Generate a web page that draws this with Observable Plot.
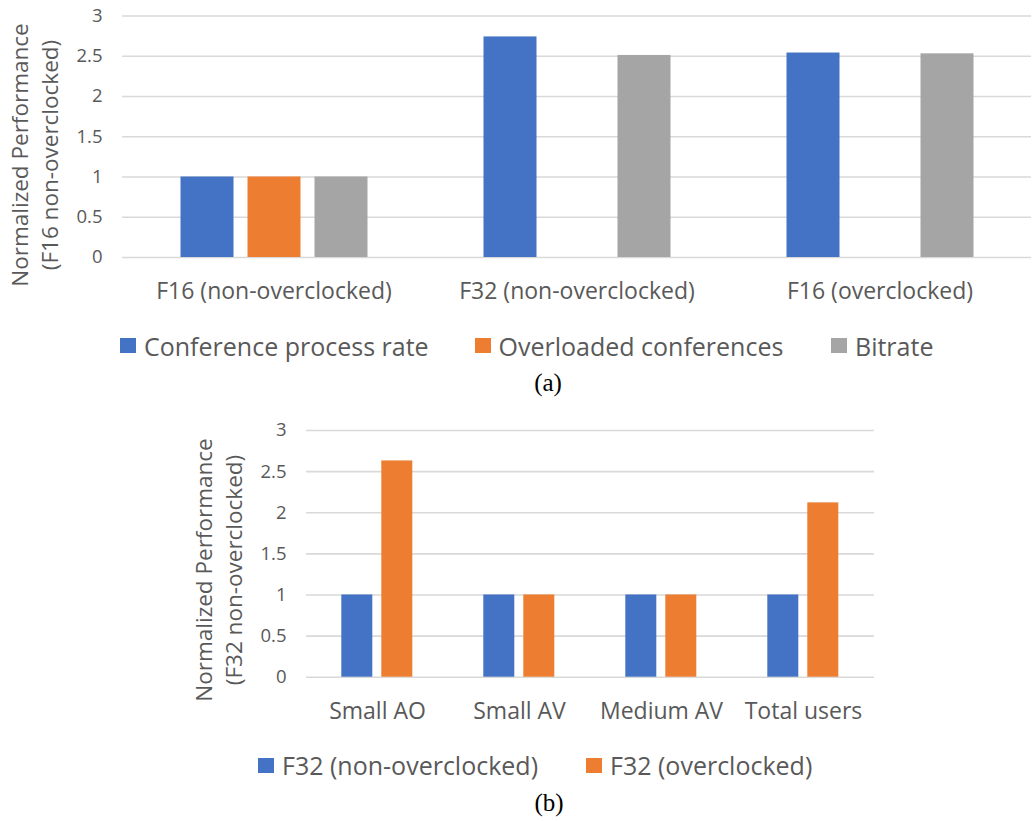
<!DOCTYPE html>
<html>
<head>
<meta charset="utf-8">
<script src="https://cdn.jsdelivr.net/npm/d3@7"></script>
<script src="https://cdn.jsdelivr.net/npm/@observablehq/plot@0.6"></script>
<style>
  body { margin: 0; background: #fff; overflow: hidden; }
  #root { position: relative; width: 1032px; height: 821px; font-family: "Open Sans", sans-serif; color: #595959; }
  #root svg { position: absolute; left: 0; }
  .ylab { position: absolute; transform: translate(-50%, -50%) rotate(-90deg); text-align: center; font-size: 22.5px; line-height: 30px; white-space: nowrap; }
  .leg { position: absolute; display: flex; align-items: center; font-size: 25px; white-space: nowrap; transform: translateY(-50%); }
  .sw { display: inline-block; width: 16px; height: 15px; margin-right: 8px; }
  .cap { position: absolute; font-family: "Liberation Serif", "Times New Roman", serif; font-size: 25px; color: #000; transform: translate(-50%, -50%); }
</style>
</head>
<body>
<div id="root"></div>
<script>
// ---- Panel (a) data ----
const groupsA = ["F16 (non-overclocked)", "F32 (non-overclocked)", "F16 (overclocked)"];
const seriesA = ["Conference process rate", "Overloaded conferences", "Bitrate"];
const conferenceProcessRate = [1, 2.74, 2.54];
const overloadedConferences = [1, null, null];
const bitrate = [1, 2.51, 2.53];
const colorsA = ["#4472C4", "#ED7D31", "#A5A5A5"];

// ---- Panel (b) data ----
const groupsB = ["Small AO", "Small AV", "Medium AV", "Total users"];
const seriesB = ["F32 (non-overclocked)", "F32 (overclocked)"];
const f32NonOverclocked = [1, 1, 1, 1];
const f32Overclocked = [2.63, 1, 1, 2.12];
const colorsB = ["#4472C4", "#ED7D31"];

const yTicks = [0, 0.5, 1, 1.5, 2, 2.5, 3];

function table(groups, series, valueLists) {
  const rows = [];
  groups.forEach((g, i) => {
    series.forEach((s, j) => {
      const v = valueLists[j][i];
      if (v != null) rows.push({group: g, series: s, value: v});
    });
  });
  return rows;
}

const dataA = table(groupsA, seriesA, [conferenceProcessRate, overloadedConferences, bitrate]);
const dataB = table(groupsB, seriesB, [f32NonOverclocked, f32Overclocked]);

function chart({data, groups, series, colors, width, height, marginTop, marginLeft, marginRight, marginBottom, padIn, padOut}) {
  return Plot.plot({
    width, height, marginTop, marginLeft, marginRight, marginBottom,
    style: {fontFamily: "Open Sans, sans-serif", color: "#595959", background: "transparent", overflow: "visible"},
    fx: {domain: groups, padding: 0, label: null},
    x: {domain: series, axis: null, paddingInner: padIn, paddingOuter: padOut},
    y: {domain: [0, 3], label: null},
    color: {domain: series, range: colors},
    marks: [
      Plot.gridY(yTicks, {stroke: "#d9d9d9", strokeOpacity: 1, strokeWidth: 1.6}),
      Plot.axisY(yTicks, {tickSize: 0, tickPadding: 20, fontSize: 18.5, fill: "#595959", label: null, tickFormat: d => String(d)}),
      Plot.axisFx({anchor: "bottom", tickSize: 0, tickPadding: 25, fontSize: 23, fill: "#595959", label: null}),
      Plot.barY(data, {fx: "group", x: "series", y: "value", fill: "series"})
    ]
  });
}

const root = document.getElementById("root");

const svgA = chart({
  data: dataA, groups: groupsA, series: seriesA, colors: colorsA,
  width: 1032, height: 317, marginTop: 15.5, marginLeft: 120.5, marginRight: 0, marginBottom: 60,
  padIn: 0.215, padOut: 0.857
});
svgA.style.top = "0px";
root.appendChild(svgA);

const svgB = chart({
  data: dataB, groups: groupsB, series: seriesB, colors: colorsB,
  width: 1032, height: 337, marginTop: 30, marginLeft: 305.7, marginRight: 156.7, marginBottom: 60.3,
  padIn: 0.218, padOut: 0.871
});
svgB.style.top = "400px";
root.appendChild(svgB);

function addDiv(cls, html, left, top) {
  const d = document.createElement("div");
  d.className = cls;
  d.innerHTML = html;
  d.style.left = left + "px";
  d.style.top = top + "px";
  root.appendChild(d);
  return d;
}

// y-axis titles
addDiv("ylab", "Normalized Performance<br>(F16 non-overclocked)", 35, 155);
addDiv("ylab", "Normalized Performance<br>(F32 non-overclocked)", 218.5, 570);

// legends
const legA = [120, 474.5, 831];
seriesA.forEach((s, i) => addDiv("leg", `<span class="sw" style="background:${colorsA[i]}"></span>${s}`, legA[i], 345.5));
const legB = [258, 586];
seriesB.forEach((s, i) => addDiv("leg", `<span class="sw" style="background:${colorsB[i]}"></span>${s}`, legB[i], 765));

// captions
addDiv("cap", "(a)", 548, 383);
addDiv("cap", "(b)", 549, 803);
</script>
</body>
</html>
